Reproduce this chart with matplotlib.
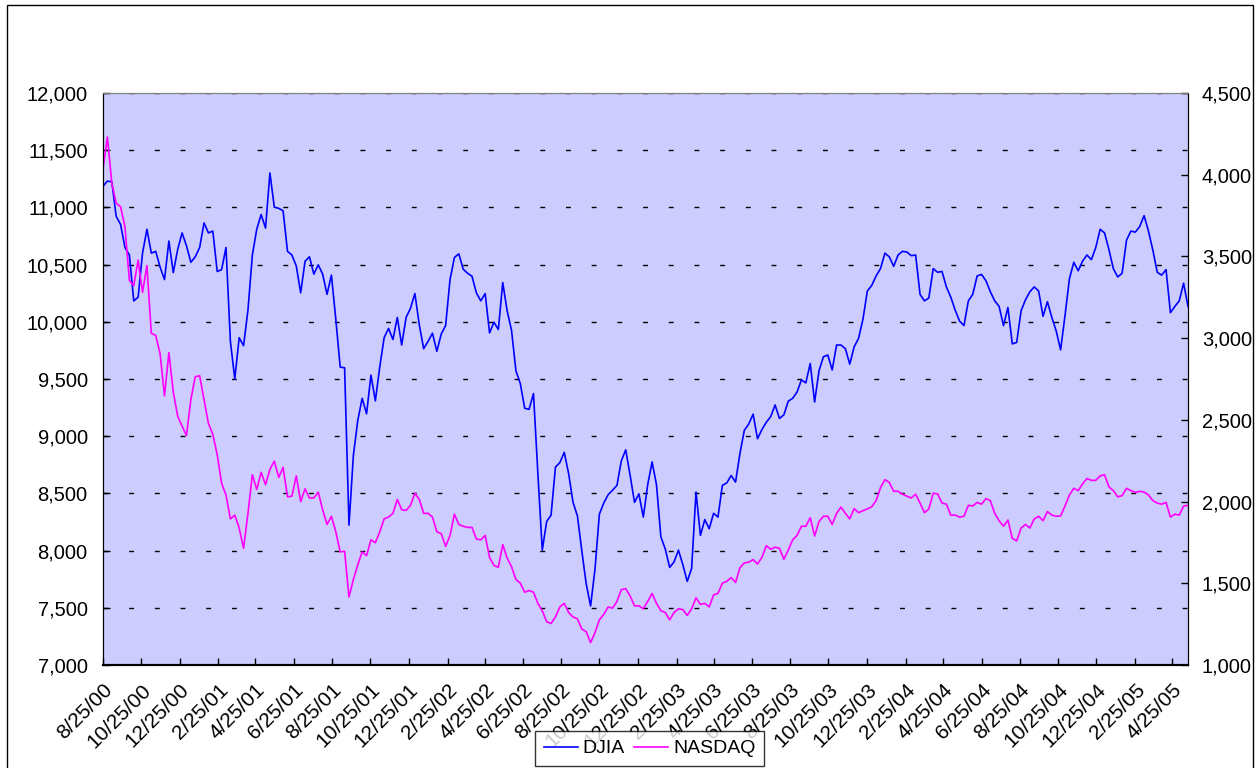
import numpy as np
import pandas as pd
import matplotlib
matplotlib.use("Agg")
import matplotlib.pyplot as plt
from matplotlib.patches import Rectangle
from matplotlib.ticker import FuncFormatter

plt.rcParams['font.family'] = ['Liberation Sans', 'DejaVu Sans']

# weekly closes, starting 8/25/00
start_date = "2000-08-25"

djia = [11185, 11230, 11224, 10922, 10851, 10649, 10584, 10183, 10215, 10600,
        10809, 10600, 10616, 10478, 10369, 10706, 10430, 10632, 10777, 10665,
        10520, 10568, 10649, 10864, 10777, 10793, 10440, 10456, 10649, 9829,
        9501, 9861, 9791, 10102, 10584, 10809, 10938, 10819, 11301, 11002,
        10992, 10970, 10616, 10584, 10488, 10253, 10530, 10568, 10417, 10498,
        10417, 10240, 10408, 10022, 9604, 9598, 8223, 8833, 9138, 9331,
        9196, 9534, 9309, 9604, 9861, 9942, 9845, 10038, 9797, 10038,
        10118, 10247, 9974, 9765, 9829, 9900, 9742, 9893, 9967, 10369,
        10562, 10594, 10460, 10424, 10398, 10253, 10183, 10247, 9903, 9996,
        9932, 10343, 10096, 9926, 9572, 9460, 9244, 9235, 9373, 8673,
        8004, 8255, 8310, 8730, 8769, 8859, 8673, 8422, 8303, 7998,
        7709, 7516, 7837, 8319, 8416, 8489, 8528, 8570, 8785, 8881,
        8657, 8422, 8496, 8293, 8576, 8775, 8576, 8120, 8014, 7853,
        7901, 8004, 7876, 7731, 7844, 8512, 8133, 8271, 8191, 8326,
        8293, 8570, 8592, 8656, 8599, 8849, 9052, 9106, 9193, 8978,
        9058, 9122, 9171, 9273, 9155, 9187, 9306, 9331, 9386, 9492,
        9466, 9636, 9299, 9572, 9694, 9710, 9579, 9797, 9797, 9765,
        9630, 9781, 9855, 10022, 10269, 10318, 10401, 10465, 10600, 10568,
        10485, 10584, 10616, 10610, 10578, 10584, 10240, 10183, 10208, 10465,
        10433, 10440, 10305, 10215, 10102, 10006, 9967, 10183, 10240, 10401,
        10414, 10359, 10263, 10183, 10134, 9967, 10125, 9807, 9820, 10096,
        10192, 10263, 10305, 10269, 10048, 10176, 10038, 9919, 9755, 10054,
        10375, 10520, 10446, 10530, 10584, 10543, 10649, 10809, 10777, 10632,
        10465, 10392, 10424, 10713, 10793, 10784, 10832, 10928, 10793, 10626,
        10433, 10408, 10456, 10080, 10134, 10183, 10337, 10134]

nasdaq = [4035, 4230, 3950, 3826, 3804, 3680, 3354, 3321, 3478, 3280,
          3444, 3029, 3017, 2905, 2647, 2912, 2669, 2523, 2462, 2404,
          2624, 2764, 2770, 2624, 2478, 2411, 2287, 2112, 2040, 1894,
          1917, 1838, 1714, 1928, 2164, 2074, 2179, 2103, 2197, 2247,
          2148, 2209, 2029, 2033, 2157, 2000, 2078, 2022, 2022, 2058,
          1950, 1860, 1910, 1815, 1692, 1696, 1416, 1523, 1613, 1692,
          1669, 1766, 1748, 1815, 1894, 1905, 1928, 2013, 1950, 1946,
          1977, 2051, 2013, 1928, 1928, 1905, 1815, 1804, 1726, 1793,
          1923, 1860, 1849, 1842, 1842, 1771, 1766, 1793, 1658, 1609,
          1598, 1737, 1654, 1602, 1523, 1501, 1445, 1456, 1445, 1377,
          1332, 1265, 1254, 1294, 1355, 1377, 1321, 1294, 1283, 1220,
          1204, 1137, 1198, 1276, 1310, 1355, 1348, 1389, 1461, 1467,
          1422, 1362, 1362, 1344, 1389, 1438, 1377, 1332, 1321, 1276,
          1321, 1344, 1339, 1303, 1344, 1411, 1371, 1377, 1355, 1429,
          1438, 1501, 1512, 1535, 1505, 1595, 1625, 1629, 1645, 1618,
          1658, 1730, 1708, 1721, 1714, 1647, 1703, 1766, 1793, 1849,
          1849, 1901, 1789, 1878, 1910, 1910, 1860, 1928, 1966, 1928,
          1894, 1957, 1932, 1944, 1955, 1968, 2006, 2085, 2134, 2117,
          2063, 2063, 2045, 2033, 2022, 2045, 1991, 1932, 1955, 2051,
          2047, 1991, 1984, 1917, 1917, 1905, 1910, 1977, 1973, 1995,
          1984, 2018, 2006, 1928, 1883, 1849, 1887, 1775, 1759, 1838,
          1860, 1838, 1894, 1910, 1883, 1939, 1917, 1910, 1912, 1973,
          2040, 2081, 2067, 2108, 2141, 2130, 2130, 2157, 2164, 2090,
          2067, 2029, 2036, 2081, 2067, 2056, 2063, 2058, 2040, 2006,
          1991, 1984, 1995, 1905, 1923, 1917, 1973, 1977]

dates = pd.date_range(start_date, periods=len(djia), freq="7D")
# ticks on the 25th, every second month
tick_dates = pd.date_range("2000-08-01", "2005-04-01", freq="2MS") + pd.Timedelta(days=24)

fig = plt.figure(figsize=(12.59, 7.68), dpi=100)
ax = fig.add_axes([103/1259, 1 - 665/768, (1188 - 103)/1259, (665 - 93)/768])
ax2 = ax.twinx()

ax.set_facecolor("#CCCCFF")

line_d, = ax.plot(dates, djia, color="#0000FF", lw=1.2, label="DJIA")
line_n, = ax2.plot(dates, nasdaq, color="#FF00FF", lw=1.2, label="NASDAQ")

ax.set_xlim(dates[0], dates[-1])
ax.set_ylim(7000, 12000)
ax2.set_ylim(1000, 4500)
ax.set_yticks(np.arange(7000, 12001, 500))
ax2.set_yticks(np.arange(1000, 4501, 500))

fmt = FuncFormatter(lambda v, p: f"{v:,.0f}")
ax.yaxis.set_major_formatter(fmt)
ax2.yaxis.set_major_formatter(fmt)

ax.set_xticks(tick_dates)
ax.set_xticklabels([f"{d.month}/{d.day}/{d.year % 100:02d}" for d in tick_dates],
                   rotation=45, ha="right", rotation_mode="anchor")

ax.grid(axis="y", color="black", linestyle=(0, (3.5, 15)), linewidth=1.0)
ax.set_axisbelow(True)

for a in (ax, ax2):
    a.tick_params(labelsize=14.5, length=5, direction="in", width=1)
ax.tick_params(axis="x", labelsize=15, pad=11)
ax.tick_params(axis="y", pad=11)
ax2.tick_params(axis="y", pad=10)

for a in (ax, ax2):
    a.spines["top"].set_color("#808080")
    a.spines["bottom"].set_linewidth(1.5)

leg = fig.legend([line_d, line_n], ["DJIA", "NASDAQ"], loc="upper left",
                 bbox_to_anchor=(535/1259, 1 - 731/768), borderaxespad=0,
                 ncol=2, fontsize=14, frameon=True, fancybox=False,
                 edgecolor="black", handlelength=1.75, columnspacing=0.45,
                 handletextpad=0.26, borderpad=0.45)
leg.get_frame().set_linewidth(1.0)

fig.patches.append(Rectangle((7/1259, -0.05), (1253 - 7)/1259, 1.05 - 5/768,
                             transform=fig.transFigure, fill=False,
                             edgecolor="black", linewidth=1.0))

fig.savefig("out.png", dpi=100)
